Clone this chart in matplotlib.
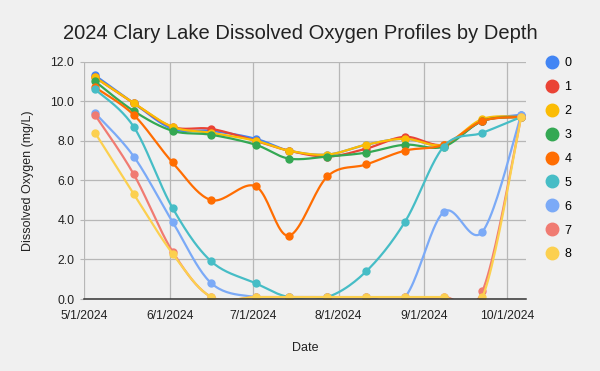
#!/usr/bin/env python3
"""2024 Clary Lake dissolved oxygen profiles"""

import numpy as np
import matplotlib
matplotlib.use('Agg')
import matplotlib.pyplot as plt
import matplotlib.dates as mdates
from matplotlib.lines import Line2D
from datetime import date

# sample dates (biweekly)
dates = [date(2024, 5, 5), date(2024, 5, 19), date(2024, 6, 2), date(2024, 6, 16),
         date(2024, 7, 2), date(2024, 7, 14), date(2024, 7, 28), date(2024, 8, 11),
         date(2024, 8, 25), date(2024, 9, 8), date(2024, 9, 22), date(2024, 10, 6)]

depths = ['0', '1', '2', '3', '4', '5', '6', '7', '8']

do_0 = [11.3, 9.9, 8.6, 8.5, 8.1, 7.5, 7.3, 7.8, 8.1, 7.8, 9.0, 9.3]
do_1 = [11.2, 9.9, 8.7, 8.6, 8.0, 7.5, 7.2, 7.6, 8.2, 7.8, 9.0, 9.2]
do_2 = [11.2, 9.9, 8.7, 8.4, 8.0, 7.5, 7.3, 7.8, 8.1, 7.8, 9.1, 9.2]
do_3 = [11.0, 9.5, 8.5, 8.3, 7.8, 7.1, 7.2, 7.4, 7.8, 7.7, 9.0, 9.2]
do_4 = [10.7, 9.3, 6.9, 5.0, 5.7, 3.2, 6.2, 6.8, 7.5, 7.8, 9.0, 9.2]
do_5 = [10.6, 8.7, 4.6, 1.9, 0.8, 0.1, 0.1, 1.4, 3.9, 7.7, 8.4, 9.2]
do_6 = [9.4, 7.2, 3.9, 0.8, 0.1, 0.1, 0.1, 0.1, 0.1, 4.4, 3.4, 9.3]
do_7 = [9.3, 6.3, 2.4, 0.1, 0.1, 0.1, 0.1, 0.1, 0.1, 0.1, 0.4, 9.2]
do_8 = [8.4, 5.3, 2.3, 0.1, 0.1, 0.1, 0.1, 0.1, 0.1, 0.1, 0.1, 9.2]

series = [do_0, do_1, do_2, do_3, do_4, do_5, do_6, do_7, do_8]

colors = ['#4285F4', '#EA4335', '#FBBC04', '#34A853', '#FF6D01',
          '#46BDC6', '#7BAAF7', '#F07B72', '#FCD04F']

tick_dates = [date(2024, m, 1) for m in range(5, 11)]
tick_labels = ['5/1/2024', '6/1/2024', '7/1/2024', '8/1/2024', '9/1/2024', '10/1/2024']


def smooth(xs, ys, n=24):
    # bezier through the points, catmull-rom style control points
    pts = np.column_stack([xs, ys]).astype(float)
    out = [pts[0]]
    t = np.linspace(0, 1, n)[1:, None]
    for i in range(len(pts) - 1):
        p0 = pts[max(i - 1, 0)]
        p1 = pts[i]
        p2 = pts[i + 1]
        p3 = pts[min(i + 2, len(pts) - 1)]
        c1 = p1 + (p2 - p0) / 6
        c2 = p2 - (p3 - p1) / 6
        seg = (1 - t)**3 * p1 + 3 * (1 - t)**2 * t * c1 + 3 * (1 - t) * t**2 * c2 + t**3 * p2
        out.extend(seg)
    out = np.array(out)
    return out[:, 0], out[:, 1]


bg = '#f0f0f0'
plt.rcParams['font.family'] = ['Liberation Sans', 'DejaVu Sans']

fig = plt.figure(figsize=(6, 3.71), dpi=100, facecolor=bg)
ax = fig.add_axes([0.14, 0.194, 0.736, 0.64], facecolor=bg)

xnum = mdates.date2num(dates)
for vals, col in zip(series, colors):
    sx, sy = smooth(xnum, vals)
    ax.plot(sx, sy, color=col, lw=1.6, solid_capstyle='round', zorder=3)
    ax.plot(xnum, vals, 'o', color=col, ms=5, zorder=3)

ax.set_xlim(mdates.date2num(date(2024, 5, 1)), mdates.date2num(date(2024, 5, 1)) + 159.6)
ax.set_ylim(0, 12)
ax.set_xticks(mdates.date2num(tick_dates))
ax.set_xticklabels(tick_labels, fontsize=8.8, color='#222222')
ax.set_yticks(np.arange(0, 13, 2))
ax.set_yticklabels(['%.1f' % v for v in np.arange(0, 13, 2)], fontsize=8.8, color='#222222')
ax.grid(True, color='#b7b7b7', lw=0.9, zorder=0)
ax.tick_params(axis='x', length=0, pad=8)
ax.tick_params(axis='y', length=3, color='#b7b7b7', pad=4)
for s in ['top', 'right', 'left']:
    ax.spines[s].set_visible(False)
ax.spines['bottom'].set_color('#333333')
ax.spines['bottom'].set_linewidth(1.1)
ax.spines['bottom'].set_zorder(4)

ax.set_xlabel('Date', fontsize=9, color='#222222', labelpad=14)
ax.set_ylabel('Dissolved Oxygen (mg/L)', fontsize=9, color='#222222', labelpad=12)
fig.suptitle('2024 Clary Lake Dissolved Oxygen Profiles by Depth', fontsize=14.5,
             color='#222222', y=0.935)

handles = [Line2D([], [], marker='o', ls='none', color=c, ms=9) for c in colors]
ax.legend(handles, depths, loc='upper left', bbox_to_anchor=(1.02, 1.065),
          frameon=False, fontsize=9, labelspacing=0.95, handletextpad=0.5,
          handlelength=1.0)

fig.savefig('out.png', dpi=100, facecolor=bg)
